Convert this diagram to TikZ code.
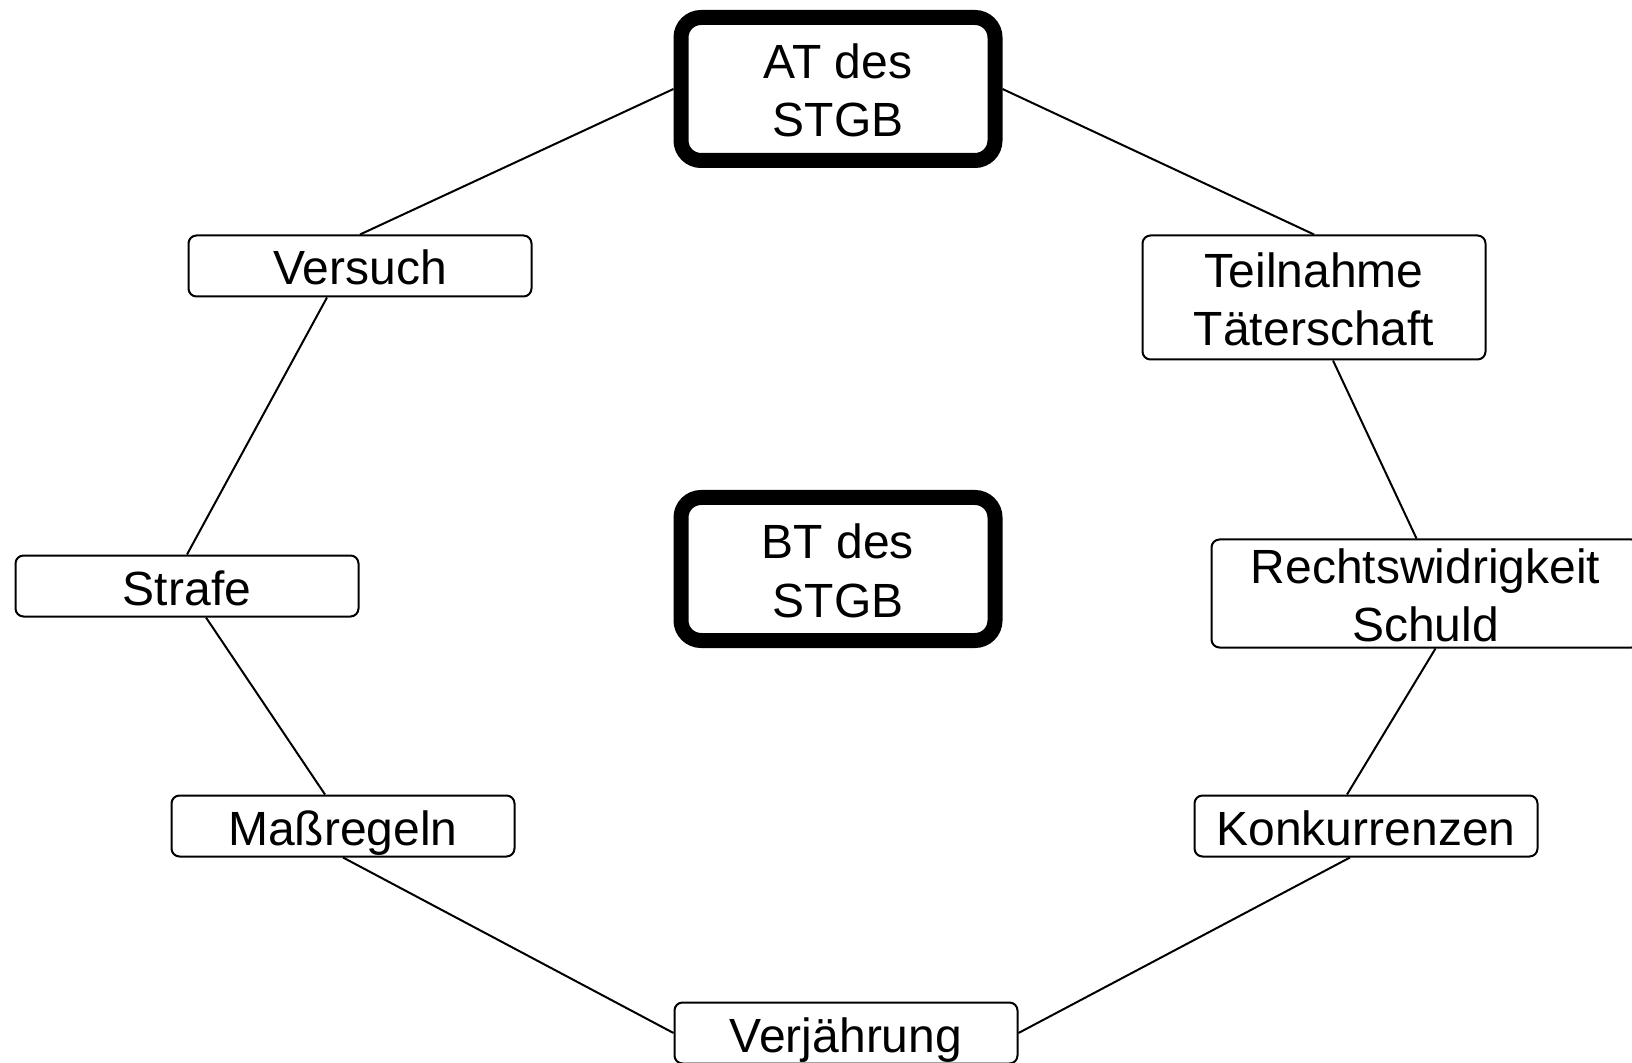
\documentclass[tikz,border=0pt]{standalone}
\usepackage{fontspec}
\setmainfont{Liberation Sans}
\usetikzlibrary{calc}
\newcommand{\twolines}[2]{\begin{tabular}[b]{@{}c@{}}#1\\#2\end{tabular}}
\begin{document}
\begin{tikzpicture}[x=0.5pt,y=-0.5pt,
  every node/.style={font=\fontsize{24}{29}\selectfont, inner sep=0pt},
  oneline/.style={text height=19pt, text depth=0pt},
  twoline/.style={text height=48pt, text depth=0pt},
  thinbox/.style={draw, line width=1pt, rounded corners=4pt, fill=white},
  smallbox/.style={thinbox, oneline, minimum width=171.5pt, minimum height=30.5pt},
  thickbox/.style={draw, line width=7.5pt, rounded corners=10pt, fill=white, twoline,
     minimum width=157pt, minimum height=71.5pt},
  conn/.style={line width=1pt}]
\useasboundingbox (0,0) rectangle (1632,1063);
\node[thickbox] (at) at (838,89) {\twolines{AT des}{STGB}};
\node[thickbox] (bt) at (838,569) {\twolines{BT des}{STGB}};
\node[smallbox] (versuch) at (360,266) {Versuch};
\node[thinbox, twoline, minimum width=171.5pt, minimum height=62pt] (teil) at (1314,297.5) {\twolines{Teilnahme}{Täterschaft}};
\node[smallbox] (strafe) at (187,586) {Strafe};
\node[thinbox, twoline, minimum width=214pt, minimum height=54pt] (recht) at (1425.5,593.5) {\twolines{Rechtswidrigkeit}{Schuld}};
\node[smallbox] (mass) at (343,826) {Maßregeln};
\node[smallbox] (konk) at (1366,826) {Konkurrenzen};
\node[smallbox] (verj) at (846,1033) {Verjährung};
\draw[conn] (at.west) -- (versuch.north);
\draw[conn] (at.east) -- (teil.north);
\draw[conn] ($(versuch.south)+(-33,0)$) -- (strafe.north);
\draw[conn] ($(teil.south)+(19,0)$) -- ($(recht.north)+(-9,0)$);
\draw[conn] ($(strafe.south)+(19,0)$) -- ($(mass.north)+(-18,0)$);
\draw[conn] ($(recht.south)+(10,0)$) -- ($(konk.north)+(-19,0)$);
\draw[conn] (mass.south) -- (verj.west);
\draw[conn] ($(konk.south)+(-16,0)$) -- (verj.east);
\end{tikzpicture}
\end{document}
